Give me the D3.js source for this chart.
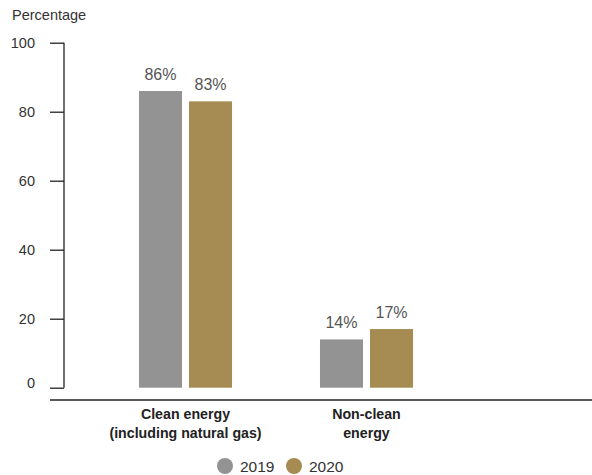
<!DOCTYPE html>
<html>
<head>
<meta charset="utf-8">
<script src="https://cdn.jsdelivr.net/npm/d3@7"></script>
<style>
  html, body { margin: 0; padding: 0; background: #fff; }
  svg { display: block; font-family: "Liberation Sans", Arial, Helvetica, sans-serif; }
</style>
</head>
<body>
<svg id="chart" width="592" height="475"></svg>
<script>
const categories = ["Clean energy\n(including natural gas)", "Non-clean\nenergy"];
const seriesNames = ["2019", "2020"];
const values2019 = [86, 14];
const values2020 = [83, 17];
const yTicks = [0, 20, 40, 60, 80, 100];
const colors = ["#939393", "#a68b52"];

const svg = d3.select("#chart");

const y = d3.scaleLinear().domain([0, 100]).range([387.7, 42.7]);
const x0 = d3.scaleBand().domain(categories).range([95, 457]).paddingInner(0.486).paddingOuter(0.243);
const x1 = d3.scaleBand().domain(seriesNames).range([0, x0.bandwidth()]).paddingInner(0.14).paddingOuter(0);
const color = d3.scaleOrdinal().domain(seriesNames).range(colors);

const data = categories.map((c, i) => ({
  cat: c,
  vals: [{s: "2019", v: values2019[i]}, {s: "2020", v: values2020[i]}]
}));

// Y axis
const yAxis = d3.axisLeft(y).tickValues(yTicks).tickSize(14).tickPadding(15).tickFormat(d3.format("d"));
const gy = svg.append("g").attr("transform", "translate(64,0)").call(yAxis);
gy.select(".domain").attr("d", `M0,${y(100)}V${y(0)}`).attr("stroke", "#222").attr("stroke-width", 1.3);
gy.selectAll(".tick line").attr("stroke", "#222").attr("stroke-width", 1.3);
gy.selectAll(".tick text").attr("fill", "#333").attr("font-size", 14.5).attr("font-family", "Liberation Sans, Arial, sans-serif");
gy.selectAll(".tick").filter(d => d === 0).select("text").attr("dy", "-0.0em");

// Y title
svg.append("text").attr("x", 12).attr("y", 20).attr("fill", "#333").attr("font-size", 14.5).text("Percentage");

// Bars
const groups = svg.selectAll("g.grp").data(data).enter().append("g")
  .attr("class", "grp").attr("transform", d => `translate(${x0(d.cat)},0)`);

groups.selectAll("rect").data(d => d.vals).enter().append("rect")
  .attr("x", d => x1(d.s))
  .attr("y", d => y(d.v))
  .attr("width", x1.bandwidth())
  .attr("height", d => y(0) - y(d.v))
  .attr("fill", d => color(d.s));

groups.selectAll("text.val").data(d => d.vals).enter().append("text")
  .attr("class", "val")
  .attr("x", d => x1(d.s) + x1.bandwidth() / 2)
  .attr("y", d => y(d.v) - 11)
  .attr("text-anchor", "middle")
  .attr("fill", "#555")
  .attr("font-size", 16)
  .text(d => d.v + "%");

// Bottom axis line
svg.append("line").attr("x1", 50).attr("x2", 592).attr("y1", 400).attr("y2", 400)
  .attr("stroke", "#222").attr("stroke-width", 1.3);

// Category labels
groups.each(function(d) {
  const lines = d.cat.split("\n");
  const t = d3.select(this).append("text")
    .attr("x", x0.bandwidth() / 2)
    .attr("text-anchor", "middle")
    .attr("font-weight", "bold")
    .attr("font-size", 14.2)
    .attr("fill", "#222");
  lines.forEach((ln, i) => {
    t.append("tspan").attr("x", x0.bandwidth() / 2).attr("y", 419 + i * 19).text(ln);
  });
});

// Legend
const legendX = [225, 294];
const leg = svg.selectAll("g.leg").data(seriesNames).enter().append("g")
  .attr("class", "leg").attr("transform", (d, i) => `translate(${legendX[i]},466)`);
leg.append("circle").attr("r", 8).attr("fill", d => color(d));
leg.append("text").attr("x", 15).attr("y", 5.5).attr("font-size", 15.5).attr("fill", "#333").text(d => d);
</script>
</body>
</html>
